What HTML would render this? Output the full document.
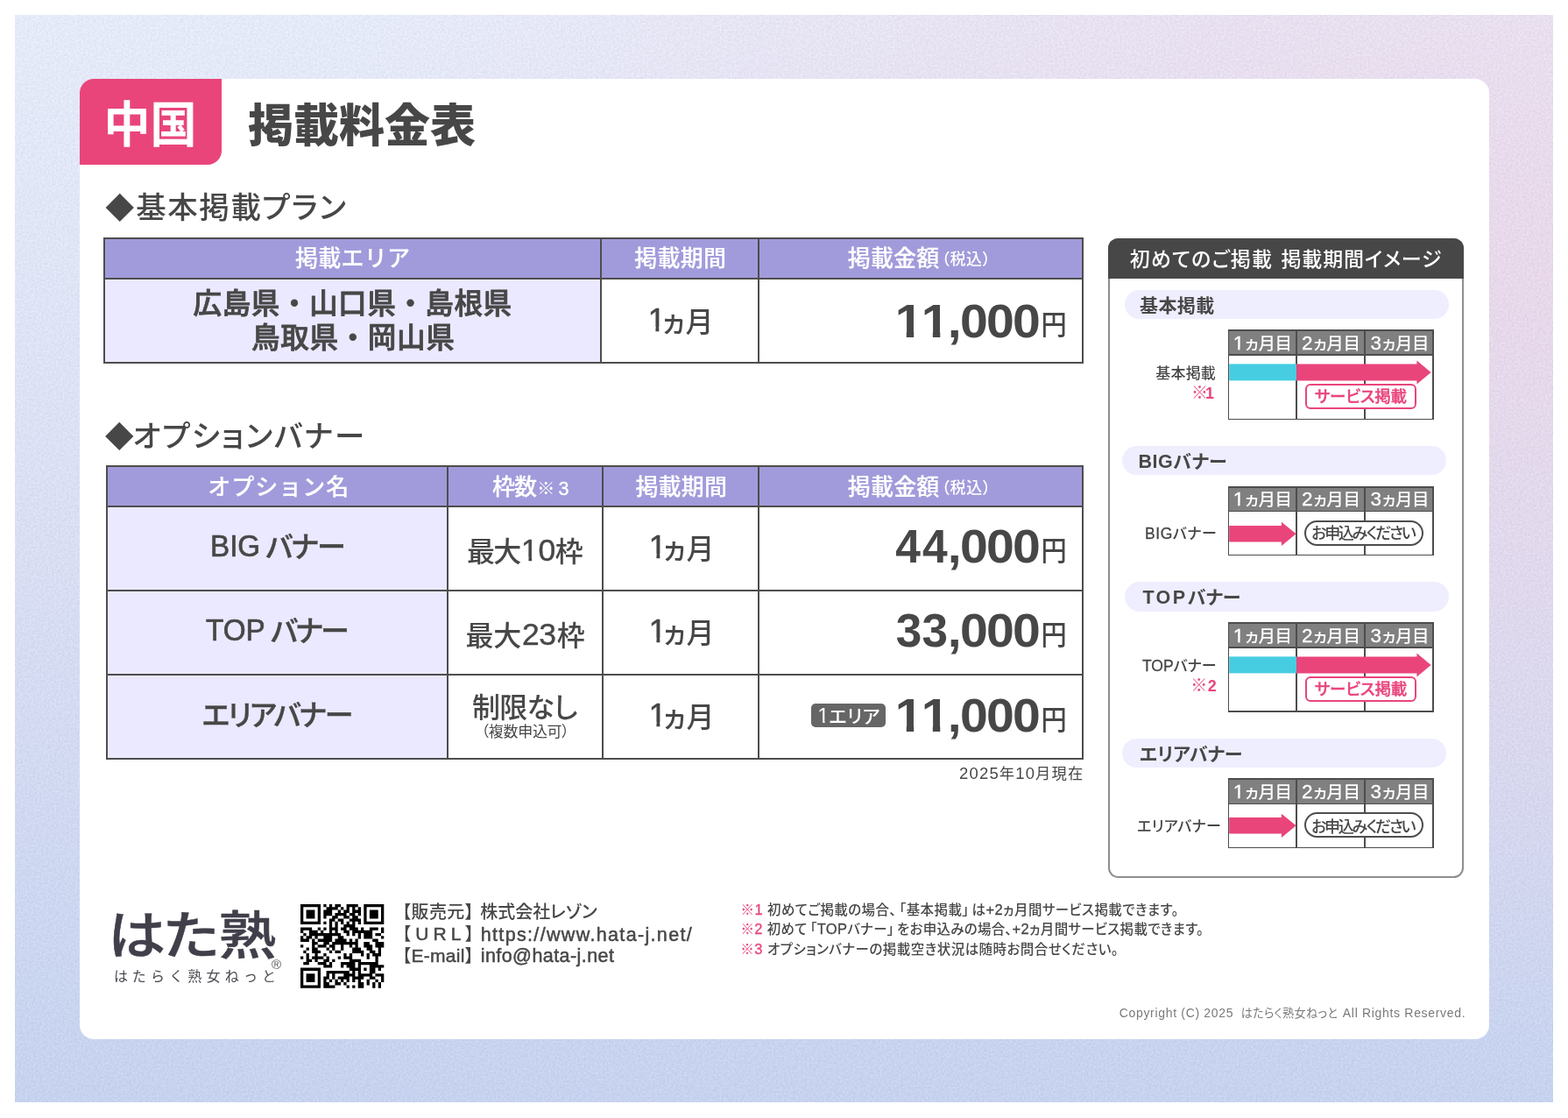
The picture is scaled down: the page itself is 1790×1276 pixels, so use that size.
<!DOCTYPE html>
<html lang="ja">
<head>
<meta charset="utf-8">
<title>中国 掲載料金表</title>
<style>
html,body{margin:0;padding:0}
body{width:1790px;height:1276px;background:#fff;position:relative;overflow:hidden;
 font-family:"Liberation Sans","Noto Sans CJK JP",sans-serif;color:#474747;}
.a{position:absolute;box-sizing:border-box}
.t{position:absolute;white-space:nowrap;line-height:1;font-feature-settings:"palt" 1;font-kerning:normal}
.bg{left:17px;top:17px;width:1756px;height:1241px;overflow:hidden;
 background:
  radial-gradient(ellipse 1420px 900px at 100% 23%, rgba(243,212,231,.6) 0%, rgba(243,212,231,0) 100%),
  linear-gradient(180deg,#ebf0ff 0%,#dee3f9 50%,#cad7f5 100%);}
.bg svg{position:absolute;left:0;top:0;width:100%;height:100%;opacity:.045}
.card{left:90.7px;top:90px;width:1609px;height:1095.6px;background:#fff;border-radius:16px}
.tag{left:90.7px;top:90px;width:162.3px;height:97.5px;background:#e9457b;border-radius:16px 0 16px 0}
.ln{position:absolute;background:#4d4d4d}
.hd{position:absolute;background:#a19bdb}
.lv{position:absolute;background:#ebe9ff}
.pill{position:absolute;background:#efeeff;border-radius:17px;height:33.6px}
.mt{position:absolute}
.ln2{position:absolute;background:#4d4d4d}
.hd2{position:absolute;background:#808080}
.panel{border:2px solid #8e8e8e;border-radius:11.5px;background:#fff}
.phead{background:#474747;border-radius:11.5px 11.5px 0 0}
.svc{border:2px solid #e9457b;border-radius:6px;background:#fff}
.app{border:2px solid #4d4d4d;border-radius:15px;background:#fff}
.badge{position:absolute;background:#666;border-radius:5px}
.d1{font-size:37px;-webkit-text-stroke:.45px currentColor;margin-right:.3px;position:relative;top:-1px}
.ka{margin-left:-4.2px;margin-right:0.4px}
.d2{font-size:22.5px;-webkit-text-stroke:.3px currentColor}
.ka2{margin-left:1px;margin-right:-0.4px}
.dg{font-size:35.5px;-webkit-text-stroke:.4px currentColor;margin:0 1px;position:relative;top:-1px}
.dt{font-size:18.5px}
.lb{font-weight:700;font-size:21.5px;-webkit-text-stroke:0}
.lr{font-size:17.5px;-webkit-text-stroke:.3px currentColor}
.nn{font-weight:700;font-size:18px;margin-left:-2px}
.cl{font-size:21px;font-weight:400;-webkit-text-stroke:.5px currentColor}
.o1{display:inline-block;line-height:1;letter-spacing:0;clip-path:polygon(0 0,100% 0,100% 69%,67.6% 69%,67.6% 100%,41% 100%,41% 69%,0 69%)}
.o1r{display:inline-block;line-height:1;letter-spacing:0;clip-path:polygon(0 0,100% 0,100% 70%,62.5% 70%,62.5% 100%,43.8% 100%,43.8% 70%,0 70%)}
.pr .o1{margin-right:-1.7px}
.nl{font-size:16.5px;-webkit-text-stroke:.3px currentColor}
.bl{margin-left:3px}
.br{margin-right:3px}
.cj{font-size:13.2px;letter-spacing:.3px;margin:0 1px 0 4px}
.dn{display:inline-block;letter-spacing:0;margin-right:-1.7px;transform:scaleX(.93)}
.d4{transform:scaleX(.9);margin-right:-1.2px}

</style>
</head>
<body>
<div class="a bg"><svg width="1756" height="1241" aria-hidden="true"><filter id="nz" x="0" y="0" width="100%" height="100%" color-interpolation-filters="sRGB"><feTurbulence type="fractalNoise" baseFrequency="0.42" numOctaves="2" seed="7"/><feColorMatrix type="saturate" values="0"/><feColorMatrix type="matrix" values="3 0 0 0 -1  3 0 0 0 -1  3 0 0 0 -1  0 0 0 0 1"/></filter><rect width="100%" height="100%" filter="url(#nz)"/></svg></div>
<div class="a card"></div>
<div class="a tag"></div>
<div class="hd" style="left:119.35px;top:272px;width:1116.55px;height:46.1px;"></div>
<div class="lv" style="left:119.35px;top:318.1px;width:566.65px;height:95.9px;"></div>
<div class="ln" style="left:118.35px;top:271px;width:2px;height:144px;"></div>
<div class="ln" style="left:685px;top:271px;width:2px;height:144px;"></div>
<div class="ln" style="left:864.9px;top:271px;width:2px;height:144px;"></div>
<div class="ln" style="left:1234.9px;top:271px;width:2px;height:144px;"></div>
<div class="ln" style="left:118.35px;top:271px;width:1118.55px;height:2px;"></div>
<div class="ln" style="left:118.35px;top:317.1px;width:1118.55px;height:2px;"></div>
<div class="ln" style="left:118.35px;top:413px;width:1118.55px;height:2px;"></div>
<div class="hd" style="left:122.15px;top:532.4px;width:1113.75px;height:45.8px;"></div>
<div class="lv" style="left:122.15px;top:578.2px;width:389.15px;height:287.8px;"></div>
<div class="ln" style="left:121.15px;top:531.4px;width:2px;height:335.6px;"></div>
<div class="ln" style="left:510.3px;top:531.4px;width:2px;height:335.6px;"></div>
<div class="ln" style="left:687.3px;top:531.4px;width:2px;height:335.6px;"></div>
<div class="ln" style="left:864.9px;top:531.4px;width:2px;height:335.6px;"></div>
<div class="ln" style="left:1234.9px;top:531.4px;width:2px;height:335.6px;"></div>
<div class="ln" style="left:121.15px;top:531.4px;width:1115.75px;height:2px;"></div>
<div class="ln" style="left:121.15px;top:577.2px;width:1115.75px;height:2px;"></div>
<div class="ln" style="left:121.15px;top:673.1px;width:1115.75px;height:2px;"></div>
<div class="ln" style="left:121.15px;top:769.1px;width:1115.75px;height:2px;"></div>
<div class="ln" style="left:121.15px;top:865px;width:1115.75px;height:2px;"></div>
<div class="a panel" style="left:1264.8px;top:271.8px;width:406.2px;height:730.2px"></div>
<div class="a phead" style="left:1264.8px;top:271.8px;width:406.2px;height:46px"></div>
<div class="pill" style="left:1283.7px;top:330.6px;width:370.6px;height:33.5px;"></div>
<div class="pill" style="left:1280.8px;top:509px;width:370.3px;height:33.4px;"></div>
<div class="pill" style="left:1283.7px;top:664.2px;width:370.6px;height:33.8px;"></div>
<div class="pill" style="left:1280.8px;top:842.6px;width:370.3px;height:33.7px;"></div>
<div class="hd2" style="left:1402.5px;top:377.3px;width:233.7px;height:27.9px;"></div>
<div class="ln2" style="left:1401.6px;top:376.4px;width:1.8px;height:103px;"></div>
<div class="ln2" style="left:1479.2px;top:376.4px;width:1.8px;height:103px;"></div>
<div class="ln2" style="left:1557.2px;top:376.4px;width:1.8px;height:103px;"></div>
<div class="ln2" style="left:1635.3px;top:376.4px;width:1.8px;height:103px;"></div>
<div class="ln2" style="left:1401.6px;top:376.4px;width:235.5px;height:1.8px;"></div>
<div class="ln2" style="left:1401.6px;top:404.3px;width:235.5px;height:1.8px;"></div>
<div class="ln2" style="left:1401.6px;top:477.6px;width:235.5px;height:1.8px;"></div>
<svg class="a" style="left:1400px;top:376.4px" width="240" height="110" viewBox="1400 376.4 240 110"><rect x="1403.2" y="415.8" width="76.9" height="19" fill="#46cde2"/><polygon points="1480.1,415.8 1617.4,415.8 1617.4,411.8 1633.6,425.4 1617.4,439 1617.4,434.8 1480.1,434.8" fill="#e9457b"/></svg>
<div class="a svc" style="left:1489.9px;top:437.9px;width:126.8px;height:28.9px"></div>
<div class="hd2" style="left:1402.5px;top:555.7px;width:233.7px;height:27.8px;"></div>
<div class="ln2" style="left:1401.6px;top:554.8px;width:1.8px;height:79.6px;"></div>
<div class="ln2" style="left:1479.2px;top:554.8px;width:1.8px;height:79.6px;"></div>
<div class="ln2" style="left:1557.2px;top:554.8px;width:1.8px;height:79.6px;"></div>
<div class="ln2" style="left:1635.3px;top:554.8px;width:1.8px;height:79.6px;"></div>
<div class="ln2" style="left:1401.6px;top:554.8px;width:235.5px;height:1.8px;"></div>
<div class="ln2" style="left:1401.6px;top:582.6px;width:235.5px;height:1.8px;"></div>
<div class="ln2" style="left:1401.6px;top:632.6px;width:235.5px;height:1.8px;"></div>
<svg class="a" style="left:1400px;top:554.8px" width="240" height="110" viewBox="1400 554.8 240 110"><polygon points="1403.2,599.9 1462.9,599.9 1462.9,595.5 1479.6,609.1 1462.9,622.7 1462.9,618.3 1403.2,618.3" fill="#e9457b"/></svg>
<div class="a app" style="left:1489.2px;top:594px;width:135.6px;height:29px"></div>
<div class="hd2" style="left:1402.5px;top:711.1px;width:233.7px;height:27.9px;"></div>
<div class="ln2" style="left:1401.6px;top:710.2px;width:1.8px;height:103px;"></div>
<div class="ln2" style="left:1479.2px;top:710.2px;width:1.8px;height:103px;"></div>
<div class="ln2" style="left:1557.2px;top:710.2px;width:1.8px;height:103px;"></div>
<div class="ln2" style="left:1635.3px;top:710.2px;width:1.8px;height:103px;"></div>
<div class="ln2" style="left:1401.6px;top:710.2px;width:235.5px;height:1.8px;"></div>
<div class="ln2" style="left:1401.6px;top:738.1px;width:235.5px;height:1.8px;"></div>
<div class="ln2" style="left:1401.6px;top:811.4px;width:235.5px;height:1.8px;"></div>
<svg class="a" style="left:1400px;top:710.2px" width="240" height="110" viewBox="1400 710.2 240 110"><rect x="1403.2" y="749.6" width="76.9" height="19" fill="#46cde2"/><polygon points="1480.1,749.6 1617.4,749.6 1617.4,745.6 1633.6,759.2 1617.4,772.8 1617.4,768.6 1480.1,768.6" fill="#e9457b"/></svg>
<div class="a svc" style="left:1489.9px;top:771.7px;width:126.8px;height:28.9px"></div>
<div class="hd2" style="left:1402.5px;top:889.1px;width:233.7px;height:28.3px;"></div>
<div class="ln2" style="left:1401.6px;top:888.2px;width:1.8px;height:80.3px;"></div>
<div class="ln2" style="left:1479.2px;top:888.2px;width:1.8px;height:80.3px;"></div>
<div class="ln2" style="left:1557.2px;top:888.2px;width:1.8px;height:80.3px;"></div>
<div class="ln2" style="left:1635.3px;top:888.2px;width:1.8px;height:80.3px;"></div>
<div class="ln2" style="left:1401.6px;top:888.2px;width:235.5px;height:1.8px;"></div>
<div class="ln2" style="left:1401.6px;top:916.5px;width:235.5px;height:1.8px;"></div>
<div class="ln2" style="left:1401.6px;top:966.7px;width:235.5px;height:1.8px;"></div>
<svg class="a" style="left:1400px;top:888.2px" width="240" height="110" viewBox="1400 888.2 240 110"><polygon points="1403.2,933.3 1462.9,933.3 1462.9,928.9 1479.6,942.5 1462.9,956.1 1462.9,951.7 1403.2,951.7" fill="#e9457b"/></svg>
<div class="a app" style="left:1489.2px;top:927.4px;width:135.6px;height:29px"></div>
<div class="badge" style="left:926.3px;top:802.6px;width:84.8px;height:27.5px;"></div>
<div class="t" id="tag_txt" style="left:118.62px;top:116.00px;font-size:53px;font-weight:700;color:#fff;transform:scaleY(1.055);transform-origin:50% 50%;">中国</div>
<div class="t" id="title" style="left:283.00px;top:118.00px;font-size:52px;font-weight:900;color:#474747;">掲載料金表</div>
<div class="t" id="h1d" style="left:120.26px;top:221.00px;font-size:33px;font-weight:400;color:#474747;">◆</div>
<div class="t" id="h1" style="left:155.24px;top:220.00px;font-size:34.5px;font-weight:500;color:#474747;letter-spacing:1.55px;">基本掲載プラン</div>
<div class="t" id="h2d" style="left:119.83px;top:482.00px;font-size:33px;font-weight:400;color:#474747;">◆</div>
<div class="t" id="h2" style="left:151.51px;top:481.00px;font-size:34.5px;font-weight:500;color:#474747;letter-spacing:1.94px;">オプションバナー</div>
<div class="t" id="t1h1" style="left:337.02px;top:282.00px;font-size:26px;font-weight:500;color:#fff;letter-spacing:0.23px;font-feature-settings:normal;-webkit-text-stroke:0.2px currentColor;">掲載エリア</div>
<div class="t" id="t1h2" style="left:724.17px;top:282.00px;font-size:26px;font-weight:500;color:#fff;letter-spacing:0.29px;font-feature-settings:normal;-webkit-text-stroke:0.2px currentColor;">掲載期間</div>
<div class="t" id="t1h3" style="left:967.80px;top:282.00px;font-size:26px;font-weight:500;color:#fff;letter-spacing:0.13px;font-feature-settings:normal;-webkit-text-stroke:0.2px currentColor;">掲載金額</div>
<div class="t" id="t1h3s" style="left:1074.77px;top:287.00px;font-size:18px;font-weight:500;color:#fff;letter-spacing:0.64px;">（税込）</div>
<div class="t" id="t1a1" style="left:220.59px;top:331.00px;font-size:32.6px;font-weight:500;color:#474747;letter-spacing:0.52px;font-feature-settings:normal;-webkit-text-stroke:0.8px currentColor;">広島県・山口県・島根県</div>
<div class="t" id="t1a2" style="left:287.01px;top:370.00px;font-size:32.6px;font-weight:500;color:#474747;letter-spacing:0.63px;font-feature-settings:normal;-webkit-text-stroke:0.8px currentColor;">鳥取県・岡山県</div>
<div class="t" id="t1m" style="left:739.46px;top:348.00px;font-size:32px;font-weight:500;color:#474747;"><span class="d1 o1r">1</span><span class="ka">ヵ</span>月</div>
<div class="t" id="t1p" style="left:1030.86px;top:339.00px;font-size:54px;font-weight:700;color:#474747;letter-spacing:-1.70px;transform:scaleX(1.06);transform-origin:100% 0;"><span class="pr"><span class="o1">1</span><span class="o1">1</span>,000</span></div>
<div class="t" id="t1y" style="left:1187.82px;top:356.00px;font-size:30px;font-weight:500;color:#474747;transform:scale(0.975,1.07);transform-origin:50% 50%;">円</div>
<div class="t" id="t2h1" style="left:237.14px;top:543.00px;font-size:26px;font-weight:500;color:#fff;letter-spacing:1.00px;font-feature-settings:normal;-webkit-text-stroke:0.2px currentColor;">オプション名</div>
<div class="t" id="t2h2" style="left:561.98px;top:543.00px;font-size:26px;font-weight:500;color:#fff;letter-spacing:-0.87px;font-feature-settings:normal;-webkit-text-stroke:0.2px currentColor;">枠数</div>
<div class="t" id="t2h2s" style="left:612.89px;top:548.00px;font-size:20.5px;font-weight:500;color:#fff;letter-spacing:4.19px;font-feature-settings:normal;">※<span style="font-size:21.5px;-webkit-text-stroke:.4px currentColor">3</span></div>
<div class="t" id="t2h3" style="left:725.41px;top:543.00px;font-size:26px;font-weight:500;color:#fff;letter-spacing:0.21px;font-feature-settings:normal;-webkit-text-stroke:0.2px currentColor;">掲載期間</div>
<div class="t" id="t2h4" style="left:967.80px;top:543.00px;font-size:26px;font-weight:500;color:#fff;letter-spacing:0.18px;font-feature-settings:normal;-webkit-text-stroke:0.2px currentColor;">掲載金額</div>
<div class="t" id="t2h4s" style="left:1074.77px;top:548.00px;font-size:18px;font-weight:500;color:#fff;letter-spacing:0.69px;">（税込）</div>
<div class="t" id="t2n1a" style="left:239.59px;top:605.00px;font-size:35px;font-weight:400;color:#474747;transform:scaleX(0.9479);transform-origin:0 0;-webkit-text-stroke:0.7px currentColor;">BIG</div>
<div class="t" id="t2n1b" style="left:303.18px;top:608.00px;font-size:33px;font-weight:500;color:#474747;letter-spacing:-1.81px;-webkit-text-stroke:0.35px currentColor;">バナー</div>
<div class="t" id="t2n2a" style="left:235.07px;top:701.00px;font-size:35px;font-weight:400;color:#474747;transform:scaleX(0.9499);transform-origin:0 0;-webkit-text-stroke:0.7px currentColor;">TOP</div>
<div class="t" id="t2n2b" style="left:308.99px;top:704.00px;font-size:33px;font-weight:500;color:#474747;letter-spacing:-2.69px;-webkit-text-stroke:0.35px currentColor;">バナー</div>
<div class="t" id="t2n3" style="left:230.68px;top:800.00px;font-size:33px;font-weight:500;color:#474747;letter-spacing:-2.12px;-webkit-text-stroke:0.35px currentColor;">エリアバナー</div>
<div class="t" id="t2w1" style="left:532.92px;top:612.00px;font-size:32px;font-weight:500;color:#474747;letter-spacing:-1.56px;">最大<span class="dg"><span class="o1r">1</span>0</span>枠</div>
<div class="t" id="t2w2" style="left:531.45px;top:708.00px;font-size:32px;font-weight:500;color:#474747;letter-spacing:-0.28px;">最大<span class="dg">23</span>枠</div>
<div class="t" id="t2w3" style="left:538.90px;top:792.00px;font-size:32px;font-weight:500;color:#474747;letter-spacing:-0.68px;">制限なし</div>
<div class="t" id="t2w3s" style="left:549.50px;top:827.00px;font-size:17px;font-weight:400;color:#474747;letter-spacing:-0.28px;">（複数申込可）</div>
<div class="t" id="t2m1" style="left:740.46px;top:607.00px;font-size:32px;font-weight:500;color:#474747;"><span class="d1 o1r">1</span><span class="ka">ヵ</span>月</div>
<div class="t" id="t2m2" style="left:740.46px;top:703.00px;font-size:32px;font-weight:500;color:#474747;"><span class="d1 o1r">1</span><span class="ka">ヵ</span>月</div>
<div class="t" id="t2m3" style="left:740.46px;top:799.00px;font-size:32px;font-weight:500;color:#474747;"><span class="d1 o1r">1</span><span class="ka">ヵ</span>月</div>
<div class="t" id="t2p1" style="left:1029.71px;top:596.00px;font-size:54px;font-weight:700;color:#474747;letter-spacing:-1.70px;transform:scaleX(1.06);transform-origin:100% 0;"><span class="pr"><span class="dn d4">4</span><span class="dn d4">4</span>,000</span></div>
<div class="t" id="t2p2" style="left:1030.94px;top:692.00px;font-size:54px;font-weight:700;color:#474747;letter-spacing:-1.70px;transform:scaleX(1.06);transform-origin:100% 0;"><span class="pr"><span class="dn">3</span><span class="dn">3</span>,000</span></div>
<div class="t" id="t2p3" style="left:1030.62px;top:789.00px;font-size:54px;font-weight:700;color:#474747;letter-spacing:-1.70px;transform:scaleX(1.06);transform-origin:100% 0;"><span class="pr"><span class="o1">1</span><span class="o1">1</span>,000</span></div>
<div class="t" id="t2y1" style="left:1188.47px;top:614.00px;font-size:30px;font-weight:500;color:#474747;transform:scale(0.975,1.07);transform-origin:50% 50%;">円</div>
<div class="t" id="t2y2" style="left:1188.47px;top:710.00px;font-size:30px;font-weight:500;color:#474747;transform:scale(0.975,1.07);transform-origin:50% 50%;">円</div>
<div class="t" id="t2y3" style="left:1188.27px;top:807.00px;font-size:30px;font-weight:500;color:#474747;transform:scale(0.975,1.07);transform-origin:50% 50%;">円</div>
<div class="t" id="badge_t" style="left:933.36px;top:806.00px;font-size:21px;font-weight:500;color:#fff;letter-spacing:0.44px;"><span class="o1r" style="font-size:23.5px">1</span>エリア</div>
<div class="t" id="date" style="left:1095.10px;top:874.00px;font-size:17.3px;font-weight:400;color:#474747;letter-spacing:1.14px;"><span class="dt">2025</span>年<span class="dt">10</span>月現在</div>
<div class="t" id="rp1" style="left:1289.70px;top:285.00px;font-size:23px;font-weight:500;color:#fff;letter-spacing:1.12px;">初めてのご掲載</div>
<div class="t" id="rp2" style="left:1462.40px;top:285.00px;font-size:23px;font-weight:500;color:#fff;letter-spacing:0.87px;">掲載期間イメージ</div>
<div class="t" id="pl1" style="left:1301.08px;top:338.00px;font-size:21px;font-weight:700;color:#474747;letter-spacing:0.38px;font-feature-settings:normal;">基本掲載</div>
<div class="t" id="pl2" style="left:1299.62px;top:516.00px;font-size:21px;font-weight:700;color:#474747;letter-spacing:0.46px;"><span class="lb">BIG</span>バナー</div>
<div class="t" id="pl3" style="left:1304.38px;top:671.00px;font-size:21px;font-weight:700;color:#474747;letter-spacing:0.11px;"><span class="lb" style="letter-spacing:2.5px">TOP</span>バナー</div>
<div class="t" id="pl4" style="left:1300.97px;top:850.00px;font-size:21px;font-weight:700;color:#474747;letter-spacing:-0.03px;">エリアバナー</div>
<div class="t" id="mh0a" style="left:1407.69px;top:381.00px;font-size:19.5px;font-weight:500;color:#fff;letter-spacing:-0.30px;"><span class="d2 o1r">1</span><span class="ka2">ヵ</span>月目</div>
<div class="t" id="mh0b" style="left:1485.94px;top:381.00px;font-size:19.5px;font-weight:500;color:#fff;letter-spacing:-0.30px;"><span class="d2">2</span><span class="ka2">ヵ</span>月目</div>
<div class="t" id="mh0c" style="left:1564.49px;top:381.00px;font-size:19.5px;font-weight:500;color:#fff;letter-spacing:-0.30px;"><span class="d2">3</span><span class="ka2">ヵ</span>月目</div>
<div class="t" id="mh1a" style="left:1407.69px;top:559.00px;font-size:19.5px;font-weight:500;color:#fff;letter-spacing:-0.30px;"><span class="d2 o1r">1</span><span class="ka2">ヵ</span>月目</div>
<div class="t" id="mh1b" style="left:1485.94px;top:559.00px;font-size:19.5px;font-weight:500;color:#fff;letter-spacing:-0.30px;"><span class="d2">2</span><span class="ka2">ヵ</span>月目</div>
<div class="t" id="mh1c" style="left:1564.49px;top:559.00px;font-size:19.5px;font-weight:500;color:#fff;letter-spacing:-0.30px;"><span class="d2">3</span><span class="ka2">ヵ</span>月目</div>
<div class="t" id="mh2a" style="left:1407.69px;top:715.00px;font-size:19.5px;font-weight:500;color:#fff;letter-spacing:-0.30px;"><span class="d2 o1r">1</span><span class="ka2">ヵ</span>月目</div>
<div class="t" id="mh2b" style="left:1485.94px;top:715.00px;font-size:19.5px;font-weight:500;color:#fff;letter-spacing:-0.30px;"><span class="d2">2</span><span class="ka2">ヵ</span>月目</div>
<div class="t" id="mh2c" style="left:1564.49px;top:715.00px;font-size:19.5px;font-weight:500;color:#fff;letter-spacing:-0.30px;"><span class="d2">3</span><span class="ka2">ヵ</span>月目</div>
<div class="t" id="mh3a" style="left:1407.69px;top:893.00px;font-size:19.5px;font-weight:500;color:#fff;letter-spacing:-0.30px;"><span class="d2 o1r">1</span><span class="ka2">ヵ</span>月目</div>
<div class="t" id="mh3b" style="left:1485.94px;top:893.00px;font-size:19.5px;font-weight:500;color:#fff;letter-spacing:-0.30px;"><span class="d2">2</span><span class="ka2">ヵ</span>月目</div>
<div class="t" id="mh3c" style="left:1564.49px;top:893.00px;font-size:19.5px;font-weight:500;color:#fff;letter-spacing:-0.30px;"><span class="d2">3</span><span class="ka2">ヵ</span>月目</div>
<div class="t" id="lb1" style="left:1319.37px;top:418.00px;font-size:17px;font-weight:500;color:#474747;letter-spacing:0.15px;font-feature-settings:normal;">基本掲載</div>
<div class="t" id="lb1n" style="left:1359.93px;top:439.00px;font-size:19px;font-weight:500;color:#e9457b;letter-spacing:-0.94px;font-feature-settings:normal;">※<span class="nn">1</span></div>
<div class="t" id="lb2" style="left:1307.10px;top:601.00px;font-size:17px;font-weight:500;color:#474747;letter-spacing:0.50px;"><span class="lr">BIG</span>バナー</div>
<div class="t" id="lb3" style="left:1303.88px;top:752.00px;font-size:17px;font-weight:500;color:#474747;letter-spacing:0.01px;"><span class="lr">TOP</span>バナー</div>
<div class="t" id="lb3n" style="left:1359.27px;top:773.00px;font-size:19px;font-weight:500;color:#e9457b;letter-spacing:2.36px;font-feature-settings:normal;">※<span class="nn">2</span></div>
<div class="t" id="lb4" style="left:1298.17px;top:935.00px;font-size:17px;font-weight:500;color:#474747;letter-spacing:0.24px;">エリアバナー</div>
<div class="t" id="svc1" style="left:1501.02px;top:444.00px;font-size:18.5px;font-weight:500;color:#e9457b;letter-spacing:-0.26px;-webkit-text-stroke:0.35px currentColor;">サービス掲載</div>
<div class="t" id="svc3" style="left:1500.98px;top:778.00px;font-size:18.5px;font-weight:500;color:#e9457b;letter-spacing:-0.21px;-webkit-text-stroke:0.35px currentColor;">サービス掲載</div>
<div class="t" id="app2" style="left:1497.21px;top:600.00px;font-size:18px;font-weight:500;color:#474747;letter-spacing:-2.31px;">お申込み<span style="margin-left:1.2px">く</span>ださい</div>
<div class="t" id="app4" style="left:1497.16px;top:935.00px;font-size:18px;font-weight:500;color:#474747;letter-spacing:-2.32px;">お申込み<span style="margin-left:1.2px">く</span>ださい</div>
<div class="t" id="logo" style="left:122.67px;top:1040.00px;font-size:59px;font-weight:500;color:#403f4a;letter-spacing:-0.54px;-webkit-text-stroke:0.5px currentColor;transform:scaleX(1.12);transform-origin:0 0;">はた熟</div>
<div class="t" id="logo_s" style="left:129.89px;top:1107.00px;font-size:16px;font-weight:400;color:#4a4a52;letter-spacing:5.19px;font-feature-settings:normal;">はたらく熟女ねっと</div>
<div class="t" id="logo_r" style="left:310.00px;top:1093.00px;font-size:15px;font-weight:400;color:#555;">®</div>
<div class="t" id="c1l" style="left:459.09px;top:1031.00px;font-size:20px;font-weight:500;color:#474747;letter-spacing:0.43px;">【販売元】</div>
<div class="t" id="c1v" style="left:548.27px;top:1031.00px;font-size:20px;font-weight:500;color:#474747;letter-spacing:-0.04px;">株式会社レゾン</div>
<div class="t" id="c2l" style="left:459.02px;top:1055.00px;font-size:20px;font-weight:500;color:#474747;letter-spacing:-0.34px;">【<span class="cl"> U R L </span>】</div>
<div class="t" id="c2v" style="left:548.75px;top:1057.00px;font-size:21.5px;font-weight:400;color:#474747;letter-spacing:1.34px;-webkit-text-stroke:0.5px currentColor;">https://www.hata-j.net/</div>
<div class="t" id="c3l" style="left:459.10px;top:1080.00px;font-size:20px;font-weight:500;color:#474747;letter-spacing:0.29px;">【<span class="cl">E-mail</span>】</div>
<div class="t" id="c3v" style="left:548.70px;top:1081.00px;font-size:21.5px;font-weight:400;color:#474747;letter-spacing:0.44px;-webkit-text-stroke:0.5px currentColor;">info@hata-j.net</div>
<div class="t" id="n1" style="left:845.54px;top:1030.00px;font-size:15.5px;font-weight:500;color:#474747;letter-spacing:0.40px;"><span style="color:#e9457b;font-weight:500">※<span class="nl">1</span></span><span style="margin-left:5px"></span>初めてご掲載の場合、<span class="bl">「</span>基本掲載<span class="br">」</span>は<span class="nl">+2</span>ヵ月間サービス掲載できます。</div>
<div class="t" id="n2" style="left:845.38px;top:1052.00px;font-size:15.5px;font-weight:500;color:#474747;letter-spacing:0.29px;"><span style="color:#e9457b;font-weight:500">※<span class="nl">2</span></span><span style="margin-left:5px"></span>初めて<span class="bl">「</span><span class="nl">TOP</span>バナー<span class="br">」</span>をお申込みの場合、<span class="nl">+2</span>ヵ月間サービス掲載できます。</div>
<div class="t" id="n3" style="left:845.29px;top:1075.00px;font-size:15.5px;font-weight:500;color:#474747;letter-spacing:0.46px;"><span style="color:#e9457b;font-weight:500">※<span class="nl">3</span></span><span style="margin-left:5px"></span>オプションバナーの掲載空き状況は随時お問合せください。</div>
<div class="t" id="copy" style="left:1277.73px;top:1149.00px;font-size:14px;font-weight:400;color:#7a7a7a;letter-spacing:0.68px;">Copyright (C) 2025 <span class="cj">はたらく熟女ねっと</span> All Rights Reserved.</div>
<svg class="a" style="left:343.43px;top:1032.04px" width="95.3" height="95.7" viewBox="0 0 29 29" preserveAspectRatio="none" role="img" aria-label="QRコード"><path fill="#000" d="M0 0h7v1h-7zM8 0h1v1h-1zM10 0h1v1h-1zM12 0h2v1h-2zM16 0h4v1h-4zM22 0h7v1h-7zM0 1h1v1h-1zM6 1h1v1h-1zM9 1h4v1h-4zM14 1h1v1h-1zM16 1h1v1h-1zM18 1h1v1h-1zM20 1h1v1h-1zM22 1h1v1h-1zM28 1h1v1h-1zM0 2h1v1h-1zM2 2h3v1h-3zM6 2h1v1h-1zM8 2h3v1h-3zM13 2h1v1h-1zM15 2h2v1h-2zM18 2h3v1h-3zM22 2h1v1h-1zM24 2h3v1h-3zM28 2h1v1h-1zM0 3h1v1h-1zM2 3h3v1h-3zM6 3h1v1h-1zM8 3h3v1h-3zM12 3h4v1h-4zM17 3h2v1h-2zM20 3h1v1h-1zM22 3h1v1h-1zM24 3h3v1h-3zM28 3h1v1h-1zM0 4h1v1h-1zM2 4h3v1h-3zM6 4h1v1h-1zM8 4h1v1h-1zM11 4h2v1h-2zM15 4h2v1h-2zM18 4h2v1h-2zM22 4h1v1h-1zM24 4h3v1h-3zM28 4h1v1h-1zM0 5h1v1h-1zM6 5h1v1h-1zM10 5h2v1h-2zM13 5h2v1h-2zM17 5h4v1h-4zM22 5h1v1h-1zM28 5h1v1h-1zM0 6h7v1h-7zM8 6h1v1h-1zM10 6h1v1h-1zM12 6h1v1h-1zM14 6h1v1h-1zM16 6h1v1h-1zM18 6h1v1h-1zM20 6h1v1h-1zM22 6h7v1h-7zM10 7h1v1h-1zM12 7h1v1h-1zM15 7h4v1h-4zM0 8h4v1h-4zM6 8h1v1h-1zM8 8h1v1h-1zM10 8h3v1h-3zM14 8h2v1h-2zM17 8h3v1h-3zM21 8h1v1h-1zM24 8h3v1h-3zM28 8h1v1h-1zM0 9h1v1h-1zM3 9h3v1h-3zM7 9h1v1h-1zM10 9h1v1h-1zM12 9h1v1h-1zM15 9h2v1h-2zM18 9h7v1h-7zM28 9h1v1h-1zM1 10h1v1h-1zM3 10h11v1h-11zM16 10h1v1h-1zM18 10h1v1h-1zM20 10h1v1h-1zM22 10h3v1h-3zM26 10h2v1h-2zM0 11h1v1h-1zM2 11h2v1h-2zM5 11h1v1h-1zM8 11h3v1h-3zM13 11h2v1h-2zM20 11h1v1h-1zM22 11h3v1h-3zM28 11h1v1h-1zM0 12h3v1h-3zM4 12h1v1h-1zM6 12h5v1h-5zM12 12h4v1h-4zM17 12h1v1h-1zM19 12h1v1h-1zM25 12h2v1h-2zM4 13h2v1h-2zM8 13h2v1h-2zM11 13h9v1h-9zM22 13h2v1h-2zM26 13h3v1h-3zM0 14h1v1h-1zM4 14h1v1h-1zM6 14h3v1h-3zM10 14h2v1h-2zM14 14h1v1h-1zM17 14h1v1h-1zM19 14h1v1h-1zM22 14h3v1h-3zM26 14h3v1h-3zM2 15h1v1h-1zM4 15h2v1h-2zM9 15h1v1h-1zM11 15h1v1h-1zM14 15h1v1h-1zM18 15h3v1h-3zM23 15h2v1h-2zM27 15h1v1h-1zM1 16h1v1h-1zM4 16h3v1h-3zM10 16h1v1h-1zM12 16h2v1h-2zM18 16h4v1h-4zM24 16h2v1h-2zM27 16h1v1h-1zM2 17h1v1h-1zM5 17h1v1h-1zM8 17h1v1h-1zM15 17h1v1h-1zM17 17h1v1h-1zM21 17h1v1h-1zM23 17h1v1h-1zM25 17h3v1h-3zM0 18h1v1h-1zM2 18h1v1h-1zM4 18h4v1h-4zM9 18h1v1h-1zM13 18h1v1h-1zM15 18h3v1h-3zM23 18h1v1h-1zM26 18h1v1h-1zM2 19h2v1h-2zM5 19h1v1h-1zM8 19h2v1h-2zM11 19h1v1h-1zM17 19h4v1h-4zM26 19h1v1h-1zM1 20h2v1h-2zM6 20h3v1h-3zM10 20h1v1h-1zM14 20h5v1h-5zM20 20h7v1h-7zM8 21h3v1h-3zM14 21h1v1h-1zM16 21h3v1h-3zM20 21h1v1h-1zM24 21h5v1h-5zM0 22h7v1h-7zM17 22h4v1h-4zM22 22h1v1h-1zM24 22h2v1h-2zM27 22h1v1h-1zM0 23h1v1h-1zM6 23h1v1h-1zM9 23h8v1h-8zM18 23h1v1h-1zM20 23h1v1h-1zM24 23h2v1h-2zM0 24h1v1h-1zM2 24h3v1h-3zM6 24h1v1h-1zM9 24h1v1h-1zM11 24h1v1h-1zM15 24h4v1h-4zM20 24h5v1h-5zM26 24h3v1h-3zM0 25h1v1h-1zM2 25h3v1h-3zM6 25h1v1h-1zM8 25h2v1h-2zM11 25h1v1h-1zM13 25h4v1h-4zM18 25h4v1h-4zM24 25h2v1h-2zM28 25h1v1h-1zM0 26h1v1h-1zM2 26h3v1h-3zM6 26h1v1h-1zM8 26h1v1h-1zM10 26h1v1h-1zM12 26h1v1h-1zM14 26h1v1h-1zM16 26h1v1h-1zM18 26h1v1h-1zM20 26h1v1h-1zM23 26h1v1h-1zM26 26h1v1h-1zM28 26h1v1h-1zM0 27h1v1h-1zM6 27h1v1h-1zM8 27h2v1h-2zM12 27h2v1h-2zM15 27h1v1h-1zM20 27h2v1h-2zM23 27h1v1h-1zM25 27h1v1h-1zM27 27h1v1h-1zM0 28h7v1h-7zM8 28h4v1h-4zM16 28h1v1h-1zM18 28h1v1h-1zM20 28h2v1h-2zM25 28h1v1h-1zM27 28h1v1h-1z"/></svg>
</body>
</html>
